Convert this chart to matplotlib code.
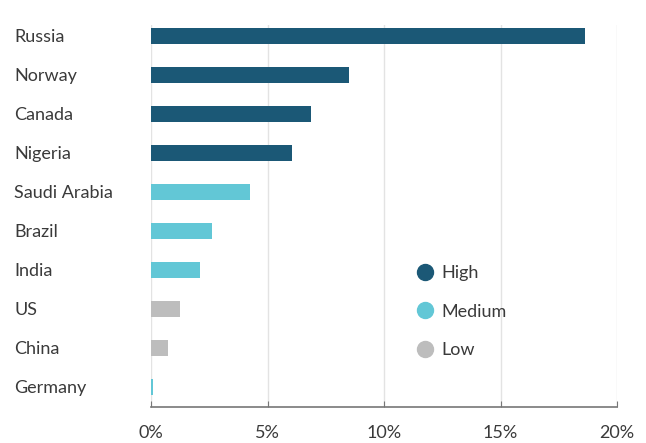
import matplotlib
matplotlib.use("Agg")
import matplotlib.pyplot as plt
from matplotlib.lines import Line2D

plt.rcParams["font.family"] = ["Lato", "DejaVu Sans"]

# 국가별 비중 (%), 위에서 아래 순서
countries = ["Russia", "Norway", "Canada", "Nigeria", "Saudi Arabia",
             "Brazil", "India", "US", "China", "Germany"]
shares = [18.64, 8.5, 6.87, 6.06, 4.24, 2.62, 2.1, 1.24, 0.74, 0.09]
levels = ["High", "High", "High", "High", "Medium",
          "Medium", "Medium", "Low", "Low", "Medium"]

COLORS = {"High": "#1b5876", "Medium": "#62c7d6", "Low": "#bdbdbd"}
TEXT = "#3a3a3a"
FS = 13

fig = plt.figure(figsize=(6.46, 4.43), dpi=100)
ax = fig.add_axes([151 / 646, 1 - 407 / 443, 466 / 646, 382 / 443])

y = list(range(len(countries)))
ax.barh(y, shares, height=0.39, color=[COLORS[l] for l in levels], zorder=3)

ax.set_xlim(0, 20)
ax.set_ylim(9.51, -0.28)
ax.set_xticks([0, 5, 10, 15, 20])
ax.set_xticklabels(["0%", "5%", "10%", "15%", "20%"])
ax.set_yticks([])
ax.grid(axis="x", color="#e3e3e3", linewidth=1, zorder=0)
ax.tick_params(axis="x", direction="in", length=4, color="#777777",
               labelsize=FS, labelcolor=TEXT, pad=13)

for side in ["top", "right", "left"]:
    ax.spines[side].set_visible(False)
ax.spines["bottom"].set_color("#777777")
ax.spines["bottom"].set_linewidth(1.2)

# 국가명: 그림 왼쪽 끝(14px)에 왼쪽 정렬
x_lab = (14 - 151) / 466 * 20
for i, name in enumerate(countries):
    ax.text(x_lab, i + 0.02, name, fontsize=FS, color=TEXT,
            ha="left", va="center", clip_on=False)

handles = [Line2D([], [], linestyle="none", marker="o", markersize=11.5,
                  markerfacecolor=COLORS[k], markeredgecolor=COLORS[k], label=k)
           for k in ["High", "Medium", "Low"]]
leg = ax.legend(handles=handles, loc="upper left", bbox_to_anchor=(398 / 646, 1 - 249 / 443),
                bbox_transform=fig.transFigure, frameon=False, fontsize=FS,
                labelspacing=1.25, handletextpad=0.3, handlelength=1.2)
for t in leg.get_texts():
    t.set_color(TEXT)

fig.savefig("out.png", dpi=100)
